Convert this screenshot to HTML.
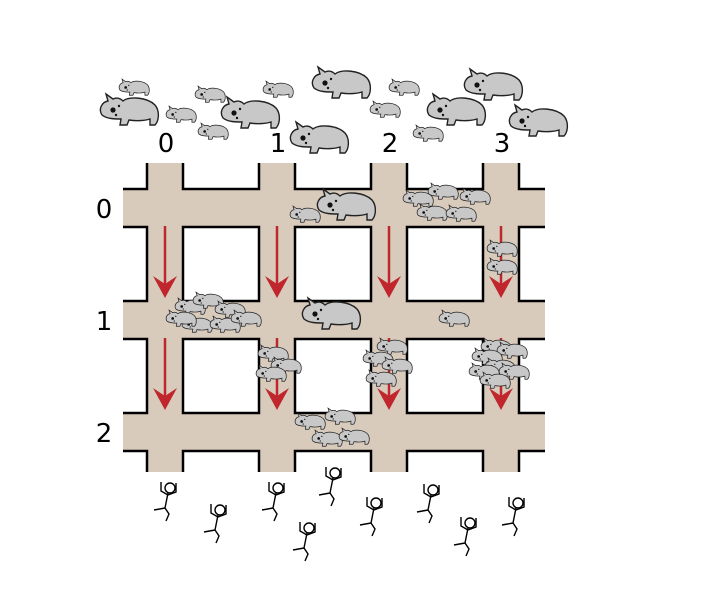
<!DOCTYPE html>
<html><head><meta charset="utf-8"><style>
html,body{margin:0;padding:0;background:#fff;}
svg text{font-family:"DejaVu Sans","Liberation Sans",sans-serif;font-size:26px;fill:#000;}
</style></head><body>
<svg id="s" width="720" height="604" viewBox="0 0 720 604" xmlns="http://www.w3.org/2000/svg">
<defs>
<clipPath id="gc"><rect x="123" y="163" width="422" height="309"/></clipPath>
<marker id="ah" viewBox="0 0 10 10" refX="5" refY="9" markerWidth="5" markerHeight="5" orient="auto">
</marker>
<g id="wb">
<path d="M-27,2 C-31,-4 -27,-11 -21,-12 L-23,-19 L-16,-14 C-12,-16 -9,-15 -6,-12 C0,-17 18,-16 26,-8 C31,-2 30,8 26,12 L21,12 L21,6 C15,8 6,8 0,7 L-2,12 L-9,12 L-8,6 C-14,6 -22,6 -27,2 Z" fill="#c8c8c8" stroke="#222" stroke-width="1.4"/>
<circle cx="-16" cy="-3" r="2.6" fill="#111"/><circle cx="-10" cy="-7" r="1.2" fill="#111"/><circle cx="-13" cy="2" r="1.2" fill="#111"/>
</g>
<g id="pp" fill="none" stroke="#000" stroke-width="1.4">
<circle cx="2" cy="-12" r="5"/>
<path d="M0,-7 L-3,8 M-3,8 L-14,10 M-3,8 L1,14 L-2,21 M0,-5 L-7,-9 L-7,-18 M0,-5 L8,-8 L8,-17"/>
</g>
</defs>
<g>
<rect x="123" y="163" width="422" height="309" fill="#d9cbbc"/>
<g id="blocks" clip-path="url(#gc)"></g>
</g>
<g id="arrows"></g>
<g id="wombats"></g>
<g id="people"></g>
<g>
<text x="166" y="152" text-anchor="middle">0</text><text x="278" y="152" text-anchor="middle">1</text>
<text x="390" y="152" text-anchor="middle">2</text><text x="502" y="152" text-anchor="middle">3</text>
</g>
<g>
<text x="104" y="218" text-anchor="middle">0</text><text x="104" y="330" text-anchor="middle">1</text><text x="104" y="442" text-anchor="middle">2</text>
</g>
</svg>
<script>
const NS="http://www.w3.org/2000/svg";
const colsX=[[90,147],[183,259],[295,371],[407,483],[519,580]];
const rowsY=[[130,189],[227,301],[339,413],[451,510]];
const bl=document.getElementById('blocks');
for(const c of colsX)for(const r of rowsY){
 const e=document.createElementNS(NS,'rect');
 e.setAttribute('x',c[0]);e.setAttribute('y',r[0]);e.setAttribute('width',c[1]-c[0]);e.setAttribute('height',r[1]-r[0]);
 e.setAttribute('fill','#fff');e.setAttribute('stroke','#000');e.setAttribute('stroke-width','2.5');
 
 
 bl.appendChild(e);}
const arrowCols=[165,277,389,501];
const arrowRows=[[226,298],[338,410]];
const ar=document.getElementById('arrows');
for(const x of arrowCols)for(const r of arrowRows){
 const g=document.createElementNS(NS,'g');
 
 
 g.innerHTML=`<line x1="${x}" y1="${r[0]}" x2="${x}" y2="${r[1]-6}" stroke="#c0272d" stroke-width="2.5"/><path d="M${x-12},${r[1]-22} L${x},${r[1]} L${x+12},${r[1]-22} L${x},${r[1]-14} Z" fill="#c0272d"/>`;
 ar.appendChild(g);}
const L=1,S=0.52;
const wombats=[[134,89,S],[129,113,L],[210,96,S],[181,116,S],[213,133,S],[250,116,L],[278,91,S],[341,86,L],[319,141,L],[404,89,S],[385,111,S],[456,113,L],[428,135,S],[493,88,L],[538,124,L],
[346,208,L],[305,216,S],[418,200,S],[443,193,S],[475,198,S],[432,214,S],[461,215,S],[502,250,S],[502,268,S],
[190,308,S],[208,302,S],[230,311,S],[197,326,S],[225,326,S],[246,320,S],[181,320,S],[331,317,L],[454,320,S],
[273,355,S],[286,367,S],[271,375,S],[392,348,S],[378,360,S],[397,367,S],[381,380,S],
[496,348,S],[512,352,S],[487,358,S],[500,368,S],[514,373,S],[484,373,S],[495,382,S],
[310,423,S],[340,418,S],[327,440,S],[354,438,S]];
const wg=document.getElementById('wombats');
for(const w of wombats){const u=document.createElementNS(NS,'use');u.setAttribute('href','#wb');
 u.setAttribute('transform',`translate(${w[0]},${w[1]}) scale(${w[2]})`);
 
 
 wg.appendChild(u);}
const people=[[168,500],[218,522],[276,500],[333,485],[307,540],[374,515],[431,502],[468,535],[516,515]];
const pg=document.getElementById('people');
for(const p of people){const u=document.createElementNS(NS,'use');u.setAttribute('href','#pp');
 u.setAttribute('transform',`translate(${p[0]},${p[1]})`);
 
 
 pg.appendChild(u);}
</script>
</body></html>
